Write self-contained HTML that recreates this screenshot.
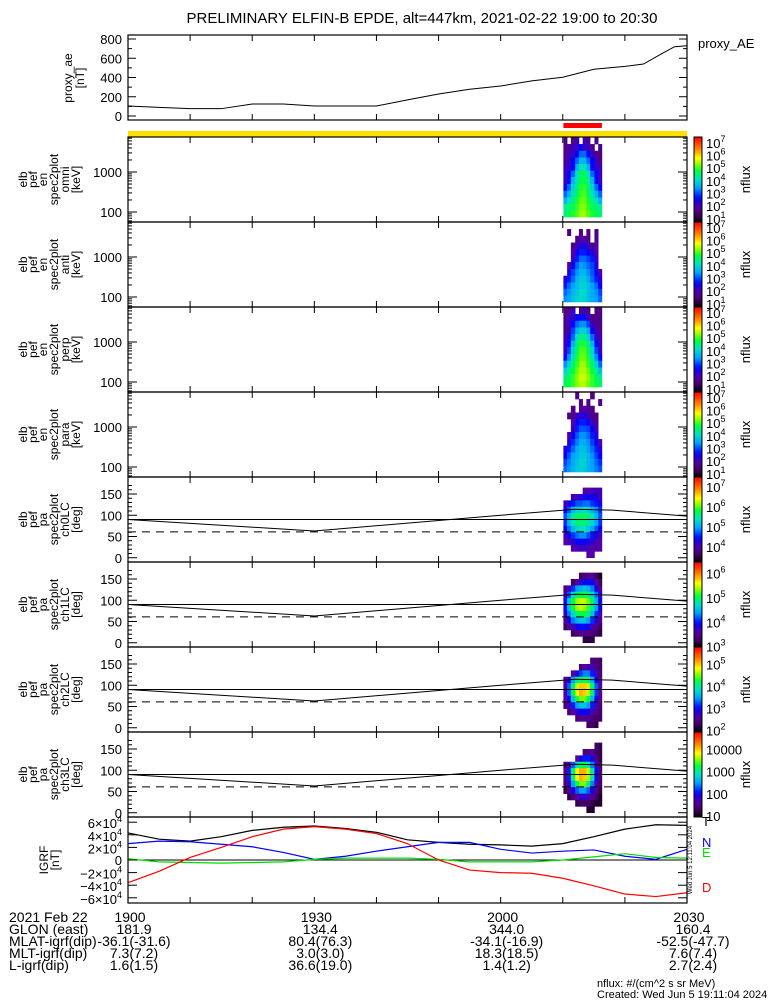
<!DOCTYPE html>
<html><head><meta charset="utf-8"><style>
html,body{margin:0;padding:0;background:#fff;}
svg{display:block;font-family:"Liberation Sans",sans-serif;}
</style></head><body>
<svg id="chart" xmlns="http://www.w3.org/2000/svg" width="775" height="1000" viewBox="0 0 775 1000">
<rect width="775" height="1000" fill="#fff"/>
</svg>
<script>
// ===== DATA =====
const aeTimes = [0,5,10,15,20,25,30,35,40,45,50,55,60,65,70,75,80,83,86,88,90];
const aeValues = [104,90,76,76,125,125,104,104,104,167,229,278,312,365,403,486,515,540,650,720,730];
const aeTicks = [0,200,400,600,800];
const timeTickLabels = ['1900','1930','2000','2030'];
const timeTickMinutes = [0,30,60,90];
const colTimes = [70.1,70.7,71.3,72.0,72.6,73.2,73.8,74.4,75.1,75.7,76.3];
const energyEdges = [7500,5000,3400,2300,1580,1080,750,500,340,230,158,108,75];
const paEdges = [165,150,135,120,105,90,75,60,45,30,15,0];
const specOmni = [
[1.5,0,1.5,2,0,2,1.5,0,1.5,0],
[1.5,1.5,2,2,2.5,2,2,1.5,0,1.5],
[1.5,2,2,2.5,3,3,2.5,2,1.5,1.5],
[1.5,2,2.5,3,3.5,3.5,3,2.5,2,1.5],
[2,2,2.5,3.5,4,4,3.5,2.5,2,2],
[2,2.5,3,4,4.5,4.5,4,3,2.5,2],
[2,2.5,3.5,4,4.6,4.6,4.2,3.5,2.5,2],
[2.5,3,3.8,4.3,4.7,4.8,4.4,3.8,3,2.5],
[3,3.5,4,4.5,4.8,4.9,4.5,4,3.5,3],
[3.5,4,4.3,4.7,5,5,4.7,4.3,4,3.5],
[4.2,4.4,4.6,4.8,5.1,5.1,4.8,4.6,4.4,4.2],
[4.4,4.5,4.7,4.9,5.2,5.2,4.9,4.7,4.5,4.4]];
const specAnti = [
[0,0,0,0,0,0,0,0,0,0],
[0,1.5,0,0,1.5,0,1.5,0,1.5,0],
[0,0,0,1.5,1.8,1.8,1.5,0,1.5,0],
[0,0,1.5,2,2.2,2.2,2,1.5,1.8,0],
[0,0,1.8,2.4,2.6,2.6,2.4,2.2,1.8,0],
[0,0,2,2.6,3,3,2.8,2.6,2,0],
[0,1.8,2.4,3,3.3,3.2,3,2.8,2.2,0],
[0,2.2,2.8,3.2,3.5,3.5,3.2,2.9,2.4,1.8],
[2.2,2.6,3,3.5,3.7,3.7,3.4,3,2.6,2.2],
[2.6,3,3.3,3.6,3.8,3.8,3.6,3.3,3,2.4],
[3,3.2,3.5,3.7,3.9,3.9,3.6,3.4,3.2,2.8],
[3.2,3.3,3.6,3.8,3.9,3.8,3.6,3.4,3.3,3]];
const specPerp = [
[1.5,1.5,2,0,1.5,2,1.5,0,1.5,1.5],
[1.5,2,2,2.5,2.5,2.5,2,1.5,1.5,1.5],
[1.5,2,2.5,3,3.2,3.2,2.8,2,1.5,1.5],
[1.5,2,2.8,3.5,3.8,3.8,3.4,2.5,2,1.5],
[2,2.2,3,4,4.3,4.3,3.8,3,2,2],
[2,2.5,3.5,4.3,4.7,4.7,4.3,3.5,2.5,2],
[2,2.8,3.8,4.5,4.9,4.9,4.5,3.8,2.8,2],
[2.5,3.2,4,4.7,5,5,4.7,4,3.2,2.5],
[3.2,3.8,4.4,4.8,5.2,5.2,4.8,4.4,3.8,3],
[3.8,4.2,4.6,5,5.3,5.3,5,4.6,4.2,3.6],
[4.3,4.5,4.8,5.1,5.4,5.4,5.1,4.8,4.5,4.2],
[4.5,4.6,4.8,5.1,5.3,5.3,5,4.8,4.6,4.4]];
const specPara = [
[0,0,0,1.5,0,0,0,1.5,0,0],
[0,0,0,0,1.5,0,1.5,0,0,1.5],
[0,0,1.5,0,1.8,1.8,1.5,1.5,0,0],
[0,1.5,1.5,2,2.2,2.2,2,1.5,1.5,0],
[0,0,1.8,2.4,2.6,2.6,2.4,2,1.5,0],
[0,0,2,2.6,2.9,2.9,2.8,2.4,2,0],
[0,1.8,2.4,2.9,3.2,3.2,3,2.6,2.2,0],
[0,2.2,2.7,3.1,3.4,3.4,3.2,2.8,2.4,1.8],
[2.2,2.6,3,3.4,3.6,3.6,3.3,3,2.6,2.2],
[2.4,2.9,3.3,3.5,3.7,3.7,3.5,3.2,2.8,2.4],
[2.8,3.1,3.4,3.6,3.8,3.8,3.5,3.3,3,2.7],
[3,3.2,3.5,3.7,3.8,3.7,3.5,3.3,3.1,2.9]];
const paCh0 = [
[0,0,0,0,0,3.9,3.9,4,4,4],
[0,0,4,4,4.2,4.2,4.3,4.2,4.2,4],
[4,4.2,4.4,4.6,4.6,4.7,4.7,4.5,4.4,4.2],
[4.3,4.6,5,5.2,5.2,5.3,5.2,5,4.8,4.5],
[4.6,5,5.4,5.6,5.6,5.6,5.5,5.3,5,4.6],
[4.5,5,5.3,5.5,5.6,5.5,5.4,5.2,4.9,4.5],
[4.3,4.7,5,5.2,5.3,5.3,5.1,4.9,4.6,4.3],
[4,4.3,4.5,4.7,4.8,4.8,4.6,4.4,4.2,4],
[3.9,4,4.1,4.3,4.3,4.3,4.2,4.1,4,3.9],
[0,0,3.9,4,4,4,4,3.9,3.9,3.9],
[0,0,0,0,0,0,3.9,3.9,0,0]];
const paCh1 = [
[0,0,0,0,3.2,3.3,3.4,3.4,3.2,3],
[0,0,3.2,3.5,3.7,3.8,3.9,3.8,3.5,3.2],
[3.3,3.6,4,4.3,4.4,4.5,4.4,4.2,3.8,3.4],
[3.6,4.1,4.6,4.9,5,5,4.9,4.6,4.2,3.7],
[3.9,4.5,5,5.3,5.4,5.4,5.2,4.9,4.4,3.8],
[3.9,4.5,5,5.3,5.4,5.3,5.1,4.8,4.3,3.8],
[3.7,4.2,4.6,4.9,5,5,4.8,4.5,4,3.6],
[3.4,3.8,4.2,4.4,4.5,4.5,4.3,4,3.7,3.4],
[3.2,3.4,3.6,3.8,3.9,3.9,3.8,3.6,3.4,3.2],
[0,0,3.2,3.3,3.4,3.4,3.4,3.3,3.2,3.1],
[0,0,0,0,0,3.1,3.1,3.1,0,0]];
const paCh2 = [
[0,0,0,0,0,0,0,2.3,2.3,2.2],
[0,0,0,0,2.3,2.5,2.6,2.6,2.4,2.2],
[0,0,2.5,2.8,3.1,3.3,3.3,3.0,2.6,2.3],
[2.4,2.8,3.4,3.9,4.1,4.2,4.0,3.5,2.9,2.4],
[2.6,3.2,4.0,4.6,4.9,4.9,4.6,4.0,3.2,2.5],
[2.6,3.2,4.1,4.7,5.0,4.9,4.6,4.0,3.1,2.5],
[2.5,2.9,3.6,4.2,4.4,4.4,4.1,3.5,2.8,2.4],
[2.3,2.6,3.0,3.4,3.6,3.6,3.4,3.0,2.6,2.3],
[0,2.3,2.5,2.7,2.9,2.9,2.8,2.6,2.4,2.2],
[0,0,0,2.3,2.4,2.4,2.4,2.3,2.2,2.2],
[0,0,0,0,0,0,2.2,2.2,2.1,0]];
const paCh3 = [
[0,0,0,0,0,0,0,0,1.3,1.2],
[0,0,0,0,0,1.4,1.5,1.5,1.3,1.2],
[0,0,0,1.6,1.9,2.1,2.1,1.9,1.5,1.2],
[1.3,1.6,2.3,2.9,3.2,3.2,3.0,2.4,1.7,1.3],
[1.5,2.1,3.1,3.8,4.1,4.1,3.7,3.0,2.0,1.4],
[1.5,2.1,3.1,3.8,4.1,4.0,3.6,2.9,1.9,1.4],
[1.4,1.8,2.5,3.2,3.5,3.5,3.1,2.4,1.7,1.3],
[1.2,1.5,1.9,2.3,2.5,2.5,2.3,1.9,1.5,1.2],
[0,1.2,1.4,1.6,1.8,1.8,1.7,1.5,1.3,1.1],
[0,0,0,1.2,1.3,1.3,1.3,1.2,1.1,1.1],
[0,0,0,0,0,0,1.1,1.1,0,0]];
const paLineTimes = [0,30,60,72,78,90];
const paLineValues = [90,63,100,114,112,98];
const lossCone = [61];
const igrfTimes = [0,5,10,15,20,25,30,35,40,45,50,55,60,65,70,75,80,85,90];
const igrfT = [43,33,30,37,47,52,54,50,44,32,28,25,24,22,26,37,49,56,55];
const igrfN = [26,30,29,25,21,12,1,6,14,21,28,28,17,11,14,16,6,1,17];
const igrfE = [2,-3,-4,-5,-4,-3,1,3,3,3,1,-3,-3,-3,0,5,10,4,3];
const igrfD = [-36,-18,4,20,37,49,53,49,42,26,0,-16,-20,-21,-29,-41,-54,-58,-52];
const igrfTicks = [6,4,2,0,-2,-4,-6];
const posRows = [
 ['GLON (east)','181.9','134.4','344.0','160.4'],
 ['MLAT-igrf(dip)','-36.1(-31.6)','80.4(76.3)','-34.1(-16.9)','-52.5(-47.7)'],
 ['MLT-igrf(dip)','7.3(7.2)','3.0(3.0)','18.3(18.5)','7.6(7.4)'],
 ['L-igrf(dip)','1.6(1.5)','36.6(19.0)','1.4(1.2)','2.7(2.4)']];

// ===== HELPERS =====
const NS='http://www.w3.org/2000/svg';
const svg=document.getElementById('chart');
function mk(tag,attrs,parent){const e=document.createElementNS(NS,tag);for(const k in attrs)e.setAttribute(k,attrs[k]);(parent||svg).appendChild(e);return e;}
const X0=128,X1=687;
function xT(m){return X0+m*(X1-X0)/90;}
const stops=[[0,[0,0,0]],[0.08,[64,0,96]],[0.17,[88,0,160]],[0.28,[0,0,255]],[0.4,[0,160,255]],[0.5,[0,224,200]],[0.6,[0,255,64]],[0.67,[128,255,0]],[0.75,[255,255,0]],[0.86,[255,128,0]],[1,[255,0,0]]];
function cmap(t){t=Math.max(0,Math.min(1,t));for(let i=1;i<stops.length;i++){if(t<=stops[i][0]){const a=stops[i-1],b=stops[i];const f=(t-a[0])/(b[0]-a[0]);const c=a[1].map((v,j)=>Math.round(v+f*(b[1][j]-v)));return 'rgb('+c.join(',')+')';}}return 'rgb(255,0,0)';}
function txt(x,y,s,size,anchor,parent){const t=mk('text',{x:x,y:y,'font-size':size,'text-anchor':anchor||'start',fill:'#000'},parent);t.textContent=s;return t;}
function pow10(x,y,exp,parent){const t=mk('text',{x:x,y:y,'font-size':13,fill:'#000'},parent);t.textContent='10';const s=mk('tspan',{dy:-6,'font-size':9},t);s.textContent=exp;return t;}
function rotLabels(lines,xs,cy,parent){lines.forEach((l,i)=>{const t=mk('text',{x:xs[i],y:cy,'font-size':12,'text-anchor':'middle',transform:'rotate(-90 '+xs[i]+' '+cy+')',fill:'#000'},parent);t.textContent=l;});}
function timeTicks(top,bot,g){for(let m=10;m<90;m+=10){mk('line',{x1:xT(m),x2:xT(m),y1:bot,y2:bot-6,stroke:'#000'},g);mk('line',{x1:xT(m),x2:xT(m),y1:top,y2:top+6,stroke:'#000'},g);}}
function frame(top,bot,g){const r=mk('rect',{x:X0,y:top,width:X1-X0,height:bot-top,fill:'none',stroke:'#000','stroke-width':1.2},g);return r;}

// Title
const title=txt(422,23,'PRELIMINARY ELFIN-B EPDE, alt=447km, 2021-02-22 19:00 to 20:30',15,'middle');



// ===== AE PANEL =====
const gAE=mk('g',{});


function yAE(v){return 116-v*77/800;}
frame(35,120,gAE);timeTicks(35,120,gAE);
aeTicks.forEach(v=>{mk('line',{x1:X0,x2:X0+8,y1:yAE(v),y2:yAE(v),stroke:'#000'},gAE);mk('line',{x1:X1,x2:X1-8,y1:yAE(v),y2:yAE(v),stroke:'#000'},gAE);const t=txt(122,yAE(v)+5,String(v),13,'end',gAE);});
for(let v=100;v<800;v+=200){mk('line',{x1:X0,x2:X0+4,y1:yAE(v),y2:yAE(v),stroke:'#000'},gAE);mk('line',{x1:X1,x2:X1-4,y1:yAE(v),y2:yAE(v),stroke:'#000'},gAE);}
const aeLine=mk('polyline',{points:aeValues.map((v,i)=>xT(aeTimes[i])+','+yAE(v)).join(' '),fill:'none',stroke:'#000','stroke-width':1},gAE);


rotLabels(['proxy_ae','[nT]'],[72,84],78,gAE);
const aeLeg=txt(698,48,'proxy_AE',13,'start',gAE);



// red and yellow bars
const redBar=mk('rect',{x:xT(colTimes[0]),y:123,width:xT(colTimes[colTimes.length-1])-xT(colTimes[0]),height:5,fill:'#ff0000'});


const yelBar=mk('rect',{x:X0,y:131,width:X1-X0,height:6,fill:'#ffe000'});



// ===== COLORBAR =====
function colorbar(top,bot,lo,hi,labels,plain,g){
  const id='cb'+top;const grad=mk('linearGradient',{id:id,x1:0,y1:1,x2:0,y2:0},mk('defs',{},g));
  for(let i=0;i<=20;i++)mk('stop',{offset:i/20,'stop-color':cmap(i/20)},grad);
  const r=mk('rect',{x:694,y:top,width:8,height:bot-top,fill:'url(#'+id+')',stroke:'#000','stroke-width':1},g);
  
  
  labels.forEach(e=>{const y=bot-(e-lo)/(hi-lo)*(bot-top)+5;let t;if(plain)t=txt(706,y,String(Math.pow(10,e)),13,'start',g);else t=pow10(706,y+2,String(e),g);});
  const n=mk('text',{x:750,y:(top+bot)/2,'font-size':13,'text-anchor':'middle',transform:'rotate(-90 750 '+(top+bot)/2+')',fill:'#000'},g);n.textContent='nflux';
  
  
}

// ===== ENERGY PANELS =====
const ePanels=[[specOmni,'omni'],[specAnti,'anti'],[specPerp,'perp'],[specPara,'para']];
ePanels.forEach((p,k)=>{
  const top=137+k*85,bot=top+85;
  const g=mk('g',{});
  
  
  const yE=e=>top+(3.875-Math.log10(e))*40;
  const lo=0.6,hi=7.3;
  p[0].forEach((row,r)=>row.forEach((v,c)=>{if(!v)return;const y0=yE(energyEdges[r]),y1=yE(energyEdges[r+1]);const cell=mk('rect',{x:xT(colTimes[c]),y:y0,width:xT(colTimes[c+1])-xT(colTimes[c])+0.3,height:y1-y0+0.3,fill:cmap((v-lo)/(hi-lo))},g);}));
  frame(top,bot,g);timeTicks(top,bot,g);
  [60,70,80,90,200,300,400,500,600,700,800,900,2000,3000,4000,5000,6000,7000].forEach(e=>{const y=yE(e);if(y<top||y>bot)return;mk('line',{x1:X0,x2:X0+4,y1:y,y2:y,stroke:'#000'},g);mk('line',{x1:X1,x2:X1-4,y1:y,y2:y,stroke:'#000'},g);});
  [100,1000].forEach(e=>{const y=yE(e);mk('line',{x1:X0,x2:X0+9,y1:y,y2:y,stroke:'#000'},g);mk('line',{x1:X1,x2:X1-9,y1:y,y2:y,stroke:'#000'},g);const t=txt(122,y+5,String(e),13,'end',g);});
  rotLabels(['elb','pef','en','spec2plot',p[1],'[keV]'],[27,37,47,58,69,80],(top+bot)/2,g);
  colorbar(top,bot,lo,hi,[1,2,3,4,5,6,7],false,g);
});

// ===== PITCH-ANGLE PANELS =====
const paPanels=[[paCh0,'ch0LC',3.15,7.4,[4,5,6,7]],[paCh1,'ch1LC',2.9,6.4,[3,4,5,6]],[paCh2,'ch2LC',1.85,5.7,[2,3,4,5]],[paCh3,'ch3LC',0.95,4.8,[1,2,3,4]]];
paPanels.forEach((p,k)=>{
  const top=477+k*85,bot=top+85;
  const g=mk('g',{});
  
  
  const yP=d=>bot-(d+10)*0.425;
  const lo=p[2],hi=p[3];
  p[0].forEach((row,r)=>row.forEach((v,c)=>{if(!v)return;const y0=yP(paEdges[r]),y1=yP(paEdges[r+1]);const cell=mk('rect',{x:xT(colTimes[c]),y:y0,width:xT(colTimes[c+1])-xT(colTimes[c])+0.3,height:y1-y0+0.3,fill:cmap((v-lo)/(hi-lo))},g);}));
  const h=mk('line',{x1:X0,x2:X1,y1:yP(90),y2:yP(90),stroke:'#000'},g);
  
  
  const d=mk('line',{x1:X0,x2:X1,y1:yP(lossCone[0]),y2:yP(lossCone[0]),stroke:'#000','stroke-dasharray':'8,6'},g);
  
  
  const c=mk('polyline',{points:paLineValues.map((v,i)=>xT(paLineTimes[i])+','+yP(v)).join(' '),fill:'none',stroke:'#000'},g);
  
  
  frame(top,bot,g);timeTicks(top,bot,g);
  for(let a=0;a<=170;a+=10){const y=yP(a);const L=a%50===0?9:4;mk('line',{x1:X0,x2:X0+L,y1:y,y2:y,stroke:'#000'},g);mk('line',{x1:X1,x2:X1-L,y1:y,y2:y,stroke:'#000'},g);}
  [0,50,100,150].forEach(a=>{const t=txt(122,yP(a)+5,String(a),13,'end',g);});
  rotLabels(['elb','pef','pa','spec2plot',p[1],'[deg]'],[27,37,47,58,69,80],(top+bot)/2,g);
  colorbar(top,bot,lo,hi,p[4],k===3,g);
});

// ===== IGRF PANEL =====
const gI=mk('g',{});


const yI=v=>860-v*0.63;
const series=[[igrfT,'#000','T',826],[igrfN,'#0000ff','N',847],[igrfE,'#00dd00','E',857],[igrfD,'#ff0000','D',892]];
mk('line',{x1:X0,x2:X1,y1:yI(0),y2:yI(0),stroke:'#000'},gI);
series.forEach(s=>{
  const pl=mk('polyline',{points:s[0].map((v,i)=>xT(igrfTimes[i])+','+yI(v)).join(' '),fill:'none',stroke:s[1],'stroke-width':1.2},gI);
  
  
  const l=txt(702,s[3],s[2],13,'start',gI);l.setAttribute('fill',s[1]);
  
  
});
frame(817,903,gI);timeTicks(817,903,gI);
igrfTicks.forEach(v=>{const y=yI(v*10);mk('line',{x1:X0,x2:X0+9,y1:y,y2:y,stroke:'#000'},gI);mk('line',{x1:X1,x2:X1-9,y1:y,y2:y,stroke:'#000'},gI);let t;
  if(v===0)t=txt(122,y+5,'0',13,'end',gI);
  else{t=mk('text',{x:122,y:y+6,'font-size':13,'text-anchor':'end',fill:'#000'},gI);t.textContent=(v<0?'\u2212':'')+Math.abs(v)+'\u00d710';const s=mk('tspan',{dy:-6,'font-size':9},t);s.textContent='4';}
  });
rotLabels(['IGRF','[nT]'],[48,59],860,gI);
const stamp=mk('text',{x:692,y:860,'font-size':6,'text-anchor':'middle',transform:'rotate(-90 692 860)',fill:'#000'},gI);
stamp.textContent='Wed Jun  5 12:11:04 2024';



// ===== BOTTOM ANNOTATIONS =====
const gB=mk('g',{});


const d0=txt(9,922,'2021 Feb 22',14,'start',gB);


timeTickLabels.forEach((s,i)=>{const t=txt(xT(timeTickMinutes[i])+2,922,s,14,'middle',gB);});
posRows.forEach((row,r)=>{const y=934+r*12;const h=txt(9,y,row[0],14,'start',gB);
  for(let i=1;i<5;i++){const t=txt(xT(timeTickMinutes[i-1])+6,y,row[i],14,'middle',gB);}});
const f1=txt(597,987,'nflux: #/(cm^2 s sr MeV)',11,'start',gB);


const f2=txt(597,998,'Created: Wed Jun  5 19:11:04 2024',11,'start',gB);
f2.setAttribute('xml:space','preserve');


</script>
</body></html>
